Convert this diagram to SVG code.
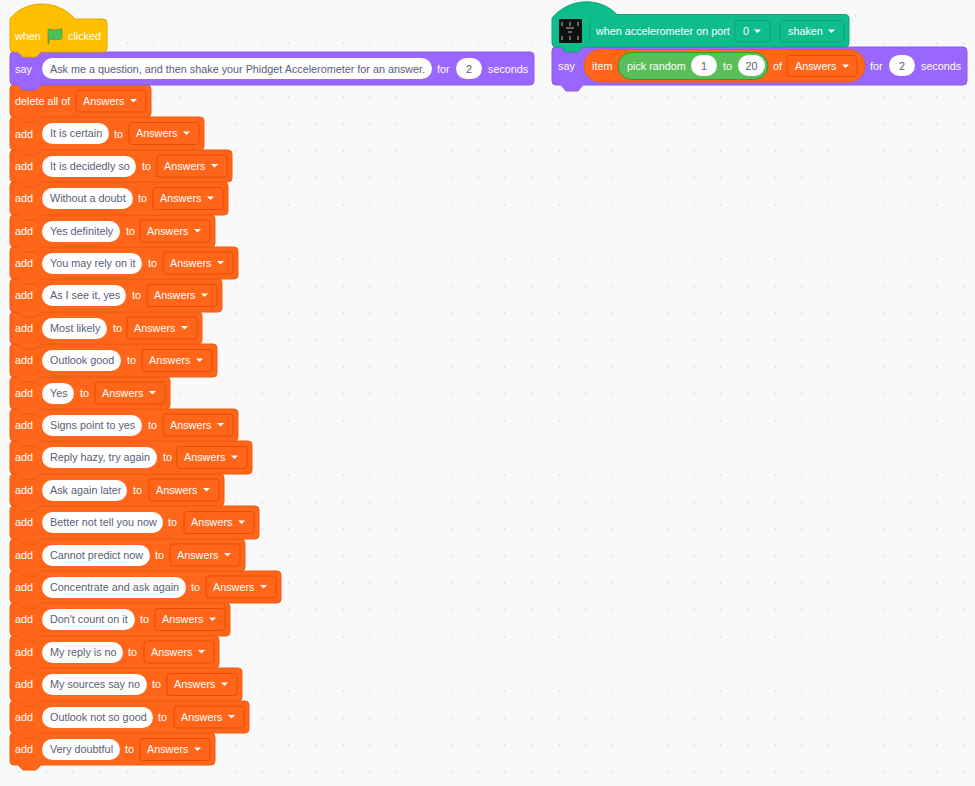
<svg xmlns="http://www.w3.org/2000/svg" width="975" height="786" viewBox="0 0 975 786">
<style>
text{font-family:"Liberation Sans",Arial,sans-serif;font-size:10.8px;fill:#fff}
.o{fill:#ff661a;stroke:#ee5a10}
.p{fill:#9966ff;stroke:#8a5ae8}
.y{fill:#ffbf00;stroke:#e0a800}
.t{fill:#0fbd8c;stroke:#0da57a}
.g{fill:#59c059;stroke:#389438}
.d{fill:none;stroke:#e64d00}
.dt{fill:none;stroke:#0da57a}
.i{fill:#fff}
text.x{fill:#575e75}
text.m{text-anchor:middle}
.a{fill:#fff}
</style>
<defs>
<pattern id="dots" width="27" height="27" patternUnits="userSpaceOnUse" x="5" y="2"><rect width="27" height="27" fill="#f9f9f9"/><rect x="13" y="13" width="2" height="2" fill="#e9e9e9"/></pattern>
<path id="arr" d="M0 0h7l-3.500 3.500z"/>
</defs>
<rect id="bg" width="975" height="786" fill="url(#dots)"/>

<g id="add-20"><path class="o" d="M10 737q0-4 4-4h4l5 5h13l5-5H211q4 0 4 4v24q0 4-4 4H41l-5 5H23l-5-5H14q-4 0-4-4z"/><text x="15" y="753">add</text><rect class="i" x="42" y="739" width="78" height="21" rx="10.500"/><text class="x" x="50" y="753">Very doubtful</text><text x="125" y="753">to</text><rect class="d" x="140" y="738.500" width="70" height="22" rx="3"/><text x="147" y="753">Answers</text><use href="#arr" class="a" x="194" y="747.500"/></g>
<g id="add-19"><path class="o" d="M10 705q0-4 4-4h4l5 5h13l5-5H245q4 0 4 4v24q0 4-4 4H41l-5 5H23l-5-5H14q-4 0-4-4z"/><text x="15" y="721">add</text><rect class="i" x="42" y="707" width="111" height="21" rx="10.500"/><text class="x" x="50" y="721">Outlook not so good</text><text x="158" y="721">to</text><rect class="d" x="174" y="706" width="70" height="22" rx="3"/><text x="181" y="721">Answers</text><use href="#arr" class="a" x="228" y="715"/></g>
<g id="add-18"><path class="o" d="M10 672q0-4 4-4h4l5 5h13l5-5H238q4 0 4 4v25q0 4-4 4H41l-5 5H23l-5-5H14q-4 0-4-4z"/><text x="15" y="688">add</text><rect class="i" x="42" y="674" width="105" height="21" rx="10.500"/><text class="x" x="50" y="688">My sources say no</text><text x="152" y="688">to</text><rect class="d" x="167" y="673.500" width="70" height="22" rx="3"/><text x="174" y="688">Answers</text><use href="#arr" class="a" x="221" y="682.500"/></g>
<g id="add-17"><path class="o" d="M10 640q0-4 4-4h4l5 5h13l5-5H215q4 0 4 4v24q0 4-4 4H41l-5 5H23l-5-5H14q-4 0-4-4z"/><text x="15" y="656">add</text><rect class="i" x="42" y="642" width="81" height="21" rx="10.500"/><text class="x" x="50" y="656">My reply is no</text><text x="128" y="656">to</text><rect class="d" x="144" y="641" width="70" height="22" rx="3"/><text x="151" y="656">Answers</text><use href="#arr" class="a" x="198" y="650"/></g>
<g id="add-16"><path class="o" d="M10 607q0-4 4-4h4l5 5h13l5-5H226q4 0 4 4v25q0 4-4 4H41l-5 5H23l-5-5H14q-4 0-4-4z"/><text x="15" y="623">add</text><rect class="i" x="42" y="609" width="93" height="21" rx="10.500"/><text class="x" x="50" y="623">Don't count on it</text><text x="140" y="623">to</text><rect class="d" x="155" y="608.500" width="70" height="22" rx="3"/><text x="162" y="623">Answers</text><use href="#arr" class="a" x="209" y="617.500"/></g>
<g id="add-15"><path class="o" d="M10 575q0-4 4-4h4l5 5h13l5-5H277q4 0 4 4v24q0 4-4 4H41l-5 5H23l-5-5H14q-4 0-4-4z"/><text x="15" y="591">add</text><rect class="i" x="42" y="577" width="144" height="21" rx="10.500"/><text class="x" x="50" y="591">Concentrate and ask again</text><text x="191" y="591">to</text><rect class="d" x="206" y="576" width="70" height="22" rx="3"/><text x="213" y="591">Answers</text><use href="#arr" class="a" x="260" y="585"/></g>
<g id="add-14"><path class="o" d="M10 543q0-4 4-4h4l5 5h13l5-5H241q4 0 4 4v24q0 4-4 4H41l-5 5H23l-5-5H14q-4 0-4-4z"/><text x="15" y="559">add</text><rect class="i" x="42" y="545" width="108" height="21" rx="10.500"/><text class="x" x="50" y="559">Cannot predict now</text><text x="155" y="559">to</text><rect class="d" x="170" y="544" width="70" height="22" rx="3"/><text x="177" y="559">Answers</text><use href="#arr" class="a" x="224" y="553"/></g>
<g id="add-13"><path class="o" d="M10 510q0-4 4-4h4l5 5h13l5-5H255q4 0 4 4v25q0 4-4 4H41l-5 5H23l-5-5H14q-4 0-4-4z"/><text x="15" y="526">add</text><rect class="i" x="42" y="512" width="121" height="21" rx="10.500"/><text class="x" x="50" y="526">Better not tell you now</text><text x="168" y="526">to</text><rect class="d" x="184" y="511.500" width="70" height="22" rx="3"/><text x="191" y="526">Answers</text><use href="#arr" class="a" x="238" y="520.500"/></g>
<g id="add-12"><path class="o" d="M10 478q0-4 4-4h4l5 5h13l5-5H220q4 0 4 4v24q0 4-4 4H41l-5 5H23l-5-5H14q-4 0-4-4z"/><text x="15" y="494">add</text><rect class="i" x="42" y="480" width="85" height="21" rx="10.500"/><text class="x" x="50" y="494">Ask again later</text><text x="133" y="494">to</text><rect class="d" x="149" y="479" width="70" height="22" rx="3"/><text x="156" y="494">Answers</text><use href="#arr" class="a" x="203" y="488"/></g>
<g id="add-11"><path class="o" d="M10 445q0-4 4-4h4l5 5h13l5-5H248q4 0 4 4v25q0 4-4 4H41l-5 5H23l-5-5H14q-4 0-4-4z"/><text x="15" y="461">add</text><rect class="i" x="42" y="447" width="115" height="21" rx="10.500"/><text class="x" x="50" y="461">Reply hazy, try again</text><text x="163" y="461">to</text><rect class="d" x="177" y="446.500" width="70" height="22" rx="3"/><text x="184" y="461">Answers</text><use href="#arr" class="a" x="231" y="455.500"/></g>
<g id="add-10"><path class="o" d="M10 413q0-4 4-4h4l5 5h13l5-5H234q4 0 4 4v24q0 4-4 4H41l-5 5H23l-5-5H14q-4 0-4-4z"/><text x="15" y="429">add</text><rect class="i" x="42" y="415" width="100" height="21" rx="10.500"/><text class="x" x="50" y="429">Signs point to yes</text><text x="148" y="429">to</text><rect class="d" x="163" y="414" width="70" height="22" rx="3"/><text x="170" y="429">Answers</text><use href="#arr" class="a" x="217" y="423"/></g>
<g id="add-9"><path class="o" d="M10 381q0-4 4-4h4l5 5h13l5-5H166q4 0 4 4v24q0 4-4 4H41l-5 5H23l-5-5H14q-4 0-4-4z"/><text x="15" y="397">add</text><rect class="i" x="42" y="383" width="32" height="21" rx="10.500"/><text class="x" x="50" y="397">Yes</text><text x="80" y="397">to</text><rect class="d" x="95" y="382" width="70" height="22" rx="3"/><text x="102" y="397">Answers</text><use href="#arr" class="a" x="149" y="391"/></g>
<g id="add-8"><path class="o" d="M10 348q0-4 4-4h4l5 5h13l5-5H213q4 0 4 4v25q0 4-4 4H41l-5 5H23l-5-5H14q-4 0-4-4z"/><text x="15" y="364">add</text><rect class="i" x="42" y="350" width="79" height="21" rx="10.500"/><text class="x" x="50" y="364">Outlook good</text><text x="127" y="364">to</text><rect class="d" x="142" y="349.500" width="70" height="22" rx="3"/><text x="149" y="364">Answers</text><use href="#arr" class="a" x="196" y="358.500"/></g>
<g id="add-7"><path class="o" d="M10 316q0-4 4-4h4l5 5h13l5-5H198q4 0 4 4v24q0 4-4 4H41l-5 5H23l-5-5H14q-4 0-4-4z"/><text x="15" y="332">add</text><rect class="i" x="42" y="318" width="65" height="21" rx="10.500"/><text class="x" x="50" y="332">Most likely</text><text x="113" y="332">to</text><rect class="d" x="127" y="317" width="70" height="22" rx="3"/><text x="134" y="332">Answers</text><use href="#arr" class="a" x="181" y="326"/></g>
<g id="add-6"><path class="o" d="M10 283q0-4 4-4h4l5 5h13l5-5H218q4 0 4 4v25q0 4-4 4H41l-5 5H23l-5-5H14q-4 0-4-4z"/><text x="15" y="299">add</text><rect class="i" x="42" y="285" width="84" height="21" rx="10.500"/><text class="x" x="50" y="299">As I see it, yes</text><text x="132" y="299">to</text><rect class="d" x="147" y="284.500" width="70" height="22" rx="3"/><text x="154" y="299">Answers</text><use href="#arr" class="a" x="201" y="293.500"/></g>
<g id="add-5"><path class="o" d="M10 251q0-4 4-4h4l5 5h13l5-5H234q4 0 4 4v24q0 4-4 4H41l-5 5H23l-5-5H14q-4 0-4-4z"/><text x="15" y="267">add</text><rect class="i" x="42" y="253" width="100" height="21" rx="10.500"/><text class="x" x="50" y="267">You may rely on it</text><text x="148" y="267">to</text><rect class="d" x="163" y="252" width="70" height="22" rx="3"/><text x="170" y="267">Answers</text><use href="#arr" class="a" x="217" y="261"/></g>
<g id="add-4"><path class="o" d="M10 219q0-4 4-4h4l5 5h13l5-5H211q4 0 4 4v24q0 4-4 4H41l-5 5H23l-5-5H14q-4 0-4-4z"/><text x="15" y="235">add</text><rect class="i" x="42" y="221" width="78" height="21" rx="10.500"/><text class="x" x="50" y="235">Yes definitely</text><text x="126" y="235">to</text><rect class="d" x="140" y="220" width="70" height="22" rx="3"/><text x="147" y="235">Answers</text><use href="#arr" class="a" x="194" y="229"/></g>
<g id="add-3"><path class="o" d="M10 186q0-4 4-4h4l5 5h13l5-5H224q4 0 4 4v25q0 4-4 4H41l-5 5H23l-5-5H14q-4 0-4-4z"/><text x="15" y="202">add</text><rect class="i" x="42" y="188" width="91" height="21" rx="10.500"/><text class="x" x="50" y="202">Without a doubt</text><text x="138" y="202">to</text><rect class="d" x="153" y="187.500" width="70" height="22" rx="3"/><text x="160" y="202">Answers</text><use href="#arr" class="a" x="207" y="196.500"/></g>
<g id="add-2"><path class="o" d="M10 154q0-4 4-4h4l5 5h13l5-5H228q4 0 4 4v24q0 4-4 4H41l-5 5H23l-5-5H14q-4 0-4-4z"/><text x="15" y="170">add</text><rect class="i" x="42" y="156" width="94" height="21" rx="10.500"/><text class="x" x="50" y="170">It is decidedly so</text><text x="142" y="170">to</text><rect class="d" x="157" y="155" width="70" height="22" rx="3"/><text x="164" y="170">Answers</text><use href="#arr" class="a" x="211" y="164"/></g>
<g id="add-1"><path class="o" d="M10 121q0-4 4-4h4l5 5h13l5-5H200q4 0 4 4v25q0 4-4 4H41l-5 5H23l-5-5H14q-4 0-4-4z"/><text x="15" y="138">add</text><rect class="i" x="42" y="123" width="67" height="21" rx="10.500"/><text class="x" x="50" y="137">It is certain</text><text x="114" y="138">to</text><rect class="d" x="129" y="122.500" width="70" height="22" rx="3"/><text x="136" y="137">Answers</text><use href="#arr" class="a" x="183" y="131.500"/></g>
<g id="delete-all"><path class="o" d="M10 89q0-4 4-4h4l5 5h13l5-5H147q4 0 4 4v24q0 4-4 4H41l-5 5H23l-5-5H14q-4 0-4-4z"/><text x="15" y="105">delete all of</text><rect class="d" x="76" y="90" width="70" height="22" rx="3"/><text x="83" y="105">Answers</text><use href="#arr" class="a" x="130" y="99"/></g>
<g id="say-1"><path class="p" d="M10 56q0-4 4-4h4l5 5h13l5-5H530q4 0 4 4v25q0 4-4 4H41l-5 5H23l-5-5H14q-4 0-4-4z"/><text x="15" y="73">say</text><rect class="i" x="42" y="58" width="390" height="21" rx="10.500"/><text class="x" x="50" y="73">Ask me a question, and then shake your Phidget Accelerometer for an answer.</text><text x="437" y="73">for</text><rect class="i" x="456" y="58" width="26" height="21" rx="10.500"/><text class="x m" x="469" y="73">2</text><text x="488" y="73">seconds</text></g>
<g id="hat-flag"><path class="y" d="M10 19C25 -1 58 -1 75 19H103q4 0 4 4v25q0 4-4 4H41l-5 5H23l-5-5H14q-4 0-4-4z"/><text x="15" y="40">when</text><path d="M48 29.500c4-1.500 5 1 8 .5 2-.2 4-.8 6-1.500v10c-3 1.500-6 1.500-8 1-2-.5-3.500-.5-5 .5v3.500h-1z" fill="#4cbf56" stroke="#45993d" stroke-width=".7"/><text x="68" y="40">clicked</text></g>

<g id="say-2"><path class="p" d="M552 51q0-4 4-4h4l5 5h13l5-5H963q4 0 4 4v30q0 4-4 4H583l-5 6H566l-5-6H556q-4 0-4-4z"/><text x="558" y="70">say</text><rect class="o" x="584" y="49.500" width="281" height="32.500" rx="16.250"/><text x="592" y="70">item</text><rect class="g" x="618" y="52.500" width="150" height="27" rx="13.500"/><text x="627" y="70">pick random</text><rect class="i" x="691" y="55" width="26" height="21" rx="10.500"/><text class="x m" x="704" y="70">1</text><text x="723" y="70">to</text><rect class="i" x="738" y="55" width="27" height="21" rx="10.500"/><text class="x m" x="751.500" y="70">20</text><text x="773" y="70">of</text><rect class="d" x="787" y="55.500" width="70" height="21" rx="3"/><text x="795" y="70">Answers</text><use href="#arr" class="a" x="842" y="64.500"/><text x="870" y="70">for</text><rect class="i" x="889" y="55" width="26" height="21" rx="10.500"/><text class="x m" x="902" y="70">2</text><text x="921" y="70">seconds</text></g>
<g id="hat-accelerometer"><path class="t" d="M552 18C570 -3 600 -3 617 14.500H845q4 0 4 4V43q0 4-4 4H583l-5 5H566l-5-5H556q-4 0-4-4z"/><rect x="559" y="19" width="23" height="24" rx="1" fill="#111"/><path d="M562 22v4M570 22v4M578 22v4M562 36v4M570 36v4M578 36v4M566 28h8M568 32h4" stroke="#bbb" stroke-width="1" fill="none"/><path d="M590 19v24" stroke="#0da57a"/><text x="596" y="35">when accelerometer on port</text><rect class="dt" x="735" y="20.500" width="35" height="21.500" rx="3"/><text x="743" y="35">0</text><use href="#arr" class="a" x="754" y="29.500"/><rect class="dt" x="780" y="20.500" width="64" height="21.500" rx="3"/><text x="788" y="35">shaken</text><use href="#arr" class="a" x="828" y="29.500"/></g>
</svg>
